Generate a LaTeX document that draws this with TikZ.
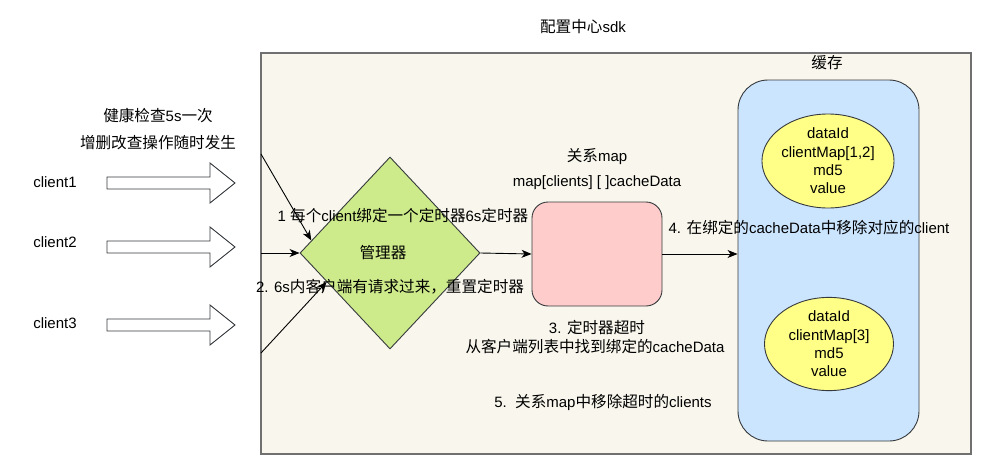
\documentclass[tikz,border=0pt]{standalone}
\usepackage{fontspec}
\setmainfont{Liberation Sans}
\newfontfamily\cjk[Scale=1.04]{Noto Sans CJK SC}
\usetikzlibrary{shapes.geometric,arrows.meta,calc}
\newcommand\zh[1]{{\cjk #1}}
\definecolor{contfill}{HTML}{F9F7ED}
\definecolor{contline}{HTML}{707070}
\definecolor{strk}{HTML}{36393D}
\definecolor{mgrfill}{HTML}{CDEB8B}
\definecolor{mapfill}{HTML}{FFCCCC}
\definecolor{cachefill}{HTML}{CCE5FF}
\definecolor{datafill}{HTML}{FFFF88}
\tikzset{
  lbl/.style={inner sep=0pt, align=center, text=black},
  conn/.style={draw=black, line width=0.9pt, -{Stealth[length=10pt,width=8pt,inset=3pt]}},
  blockarrow/.style={draw=strk, line width=0.9pt, fill=white},
  dataell/.style={ellipse, draw=strk, line width=0.9pt, fill=datafill, inner sep=0pt, align=center,
    font=\fontsize{15}{18.3}\selectfont},
}
\begin{document}
\begin{tikzpicture}[x=1pt,y=-1pt,font=\fontsize{15}{18}\selectfont]
\useasboundingbox (0,0) rectangle (997,471);
% container
\draw[fill=contfill, draw=contline, line width=1.2pt] (261,53) rectangle (971,454);
\node[lbl] (title) at (583,27) {\zh{配置中心}sdk};
% cache
\node[draw=strk, line width=0.9pt, fill=cachefill, rounded corners=30pt, minimum width=181pt, minimum height=361pt, inner sep=0pt] (cache) at (828.5,260.5) {};
\node[lbl] (cachet) at (827,63) {\zh{缓存}};
\node[dataell, minimum width=126pt, minimum height=94pt] (d1) at (828,161) {dataId\\clientMap[1,2]\\md5\\value};
\node[dataell, minimum width=129pt, minimum height=90pt] (d2) at (829,344) {dataId\\clientMap[3]\\md5\\value};
% manager diamond
\node[diamond, draw=strk, line width=0.9pt, fill=mgrfill, minimum width=180pt, minimum height=192pt, inner sep=0pt] (mgr) at (390,253) {};
\node[lbl] (mgrt) at (383,253) {\zh{管理器}};
% relation map
\node[draw=strk, line width=0.9pt, fill=mapfill, rounded corners=16pt, minimum width=130pt, minimum height=104pt, inner sep=0pt] (map) at (597,254) {};
% block arrows
\draw[blockarrow] (107,177) -- (210,177) -- (210,163) -- (235,183) -- (210,203) -- (210,189) -- (107,189) -- cycle;
\draw[blockarrow] (107,241) -- (210,241) -- (210,227) -- (235,247) -- (210,267) -- (210,253) -- (107,253) -- cycle;
\draw[blockarrow] (107,319) -- (210,319) -- (210,305) -- (235,325) -- (210,345) -- (210,331) -- (107,331) -- cycle;
\node[lbl] (c1) at (55,182) {client1};
\node[lbl] (c2) at (55,242) {client2};
\node[lbl] (c3) at (55,323) {client3};
\node[lbl] (h1) at (158,116) {\zh{健康检查}5s\zh{一次}};
\node[lbl] (h2) at (158,143) {\zh{增删改查操作随时发生}};
% connectors
\coordinate (s1) at (261,154);
\coordinate (s2) at (261,253);
\coordinate (s3) at (261,353);
\draw[conn] (s1) -- ($(mgr.west)!0.13!(mgr.north)$);
\draw[conn] (s2) -- (mgr.west);
\draw[conn] (s3) -- ($(mgr.west)!0.3!(mgr.south)$);
\draw[conn] (mgr.east) -- (map.west);
\draw[conn] (map.east) -- (map.east -| cache.west);
% labels
\node[lbl] (l1) at (403,216) {1 \zh{每个}client\zh{绑定一个定时器}6s\zh{定时器}};
\node[lbl] (l2) at (390,287) {2. 6s\zh{内客户端有请求过来，重置定时器}};
\node[lbl] (m1) at (597,157) {\zh{关系}map};
\node[lbl] (m2) at (597,183) {map[clients] [ ]cacheData};
\node[lbl] (l4) at (809,228) {4. \zh{在绑定的}cacheData\zh{中移除对应的}client};
\node[lbl] (l3a) at (597,328) {3. \zh{定时器超时}};
\node[lbl] (l3b) at (595,347) {\zh{从客户端列表中找到绑定的}cacheData};
\node[lbl] (l5) at (603,402) {5.\ \ \zh{关系}map\zh{中移除超时的}clients};
\end{tikzpicture}
\end{document}
